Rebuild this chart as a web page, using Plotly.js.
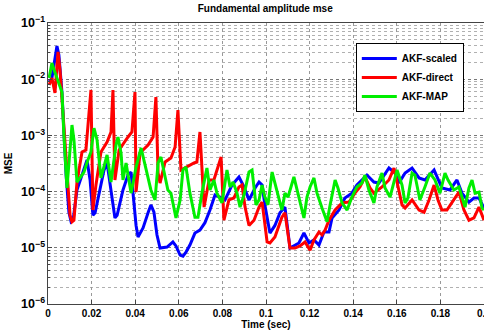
<!DOCTYPE html>
<html><head><meta charset="utf-8">
<script src="https://cdn.plot.ly/plotly-3.0.1.min.js"></script>
<style>html,body{margin:0;padding:0;background:#fff}#c{width:484px;height:331px}</style>
</head><body><div id="c"></div>
<script>
const seriesNames = ["AKF-scaled", "AKF-direct", "AKF-MAP"];
const seriesColors = ["#0000ff", "#ff0000", "#00ee00"];

const tScaled = [.0005,.0018,.0041,.005,.0064,.0083,.0096,.0106,.0115,.0133,.0156,.0179,.0193,.0206,.0216,.0239,.0257,.0271,.0289,.0307,.0317,.0344,.0367,.0381,.039,.0404,.0413,.0436,.0459,.0472,.0486,.05,.0514,.0546,.0573,.0587,.0606,.0619,.0633,.0651,.0674,.0697,.072,.0743,.0766,.0789,.0812,.0844,.0876,.0899,.0922,.095,.0968,.0982,.0995,.1018,.1041,.1064,.1087,.111,.1151,.1174,.1197,.122,.1243,.1266,.1289,.1303,.1335,.1362,.1394,.1417,.1463,.1495,.1518,.1564,.1592,.161,.1638,.167,.1702,.1729,.1771,.1807,.1844,.1876,.1899,.1931,.1954,.1977,.2];
const vScaled = [8.9e-3,1.05e-2,3.9e-2,2.7e-2,5.9e-3,1.97e-4,4.3e-5,2.9e-5,3.1e-5,1.07e-4,1.97e-4,3.65e-4,1.61e-4,3.8e-5,4.2e-5,1.07e-4,2.42e-4,3.23e-4,1.07e-4,3.4e-5,3.8e-5,1.07e-4,1.97e-4,2.23e-4,9.4e-5,2.5e-5,1.56e-5,2.25e-5,4.2e-5,5.8e-5,4.3e-5,1.69e-5,9.9e-6,1.03e-5,1.27e-5,1.08e-5,7.4e-6,7.1e-6,8.4e-6,1.12e-5,1.83e-5,2.07e-5,2.8e-5,4.7e-5,8.7e-5,8.0e-5,7.1e-5,1.31e-4,1.82e-4,1.21e-4,7.1e-5,1.16e-4,1.48e-4,1.31e-4,5.8e-5,1.83e-5,2.5e-5,4.2e-5,5.3e-5,9.9e-6,1.22e-5,1.83e-5,1.22e-5,1.38e-5,1.12e-5,1.91e-5,1.91e-5,3.4e-5,4.7e-5,7.7e-5,9.4e-5,1.31e-4,1.97e-4,1.48e-4,1.42e-4,2.63e-4,2.14e-4,1.42e-4,2.14e-4,2.63e-4,1.75e-4,1.61e-4,2.42e-4,1.16e-4,1.07e-4,1.61e-4,9.4e-5,6.5e-5,7.7e-5,7.7e-5,5.1e-5];

const tDirect = [.0005,.0018,.0032,.0046,.0055,.0073,.0087,.0101,.011,.0119,.0133,.0156,.0174,.0188,.0197,.0206,.022,.0243,.0271,.0289,.0298,.0307,.0326,.0367,.0385,.0399,.0404,.0422,.0459,.0482,.0495,.0505,.0514,.0537,.0564,.0583,.0596,.061,.0633,.067,.0683,.0697,.0716,.0739,.0761,.0794,.0807,.083,.0853,.0876,.089,.0904,.0922,.0945,.0968,.0982,.0991,.1005,.1018,.1041,.1073,.1087,.111,.1133,.1156,.1179,.1202,.122,.1243,.1257,.1271,.1289,.1317,.1349,.1381,.1408,.1431,.1454,.1477,.1495,.1532,.1564,.1587,.161,.1624,.1638,.167,.1702,.1725,.1748,.1771,.1789,.1807,.183,.1853,.1885,.1908,.1931,.1954,.1977,.2];
const vDirect = [7.9e-3,1.05e-2,5.7e-3,3.05e-2,1.46e-2,1.53e-3,1.75e-4,3.8e-5,2.9e-5,3.1e-5,1.48e-4,5.07e-4,5.5e-4,3.07e-3,6.43e-3,4.7e-5,1.31e-4,5.07e-4,7.64e-4,1.15e-3,6.43e-3,1.61e-4,5.5e-4,9.37e-4,1.15e-3,5.92e-3,9.8e-5,4.86e-4,6.75e-4,9.37e-4,4.82e-3,2.14e-4,1.42e-4,3.36e-4,3.96e-4,6.22e-4,2.83e-3,2.42e-4,2.74e-4,3.23e-4,3.36e-4,1.15e-3,5.3e-5,1.61e-4,1.61e-4,4.13e-4,3.1e-5,7.1e-5,7.7e-5,1.21e-4,1.31e-4,5.3e-5,2.5e-5,3.1e-5,5.3e-5,6.5e-5,3.5e-5,1.27e-5,1.22e-5,1.56e-5,3.5e-5,4.2e-5,9.9e-6,9.9e-6,1.08e-5,1.27e-5,9.1e-6,1.38e-5,1.91e-5,1.69e-5,2.07e-5,3.1e-5,4.7e-5,6.3e-5,6.5e-5,9.4e-5,1.21e-4,1.82e-4,1.16e-4,9.4e-5,1.21e-4,1.61e-4,2.63e-4,1.07e-4,5.8e-5,5.1e-5,7.1e-5,4.7e-5,4.3e-5,7.1e-5,1.31e-4,7.1e-5,4.7e-5,4.7e-5,6.5e-5,9.8e-5,4.7e-5,3.1e-5,3.4e-5,5.3e-5,3.1e-5];

const tMAP = [.0005,.0018,.0028,.0041,.0064,.0073,.0087,.011,.0119,.0133,.0151,.0165,.0183,.0197,.0211,.0225,.0243,.0257,.0271,.0289,.0312,.0321,.0335,.0344,.0358,.0381,.0404,.0427,.044,.0459,.0472,.0491,.0505,.0518,.0532,.055,.0564,.0587,.0606,.0619,.0633,.0651,.0674,.0688,.0706,.0729,.0743,.0761,.0775,.0798,.0821,.0835,.0849,.0867,.0881,.0899,.0922,.0936,.0954,.0968,.0982,.0995,.1009,.1028,.1041,.106,.1073,.1087,.1101,.1128,.1142,.1156,.1174,.1188,.1202,.122,.1234,.1257,.128,.1294,.1317,.133,.1349,.1372,.1394,.1417,.144,.1454,.1472,.1495,.1509,.1532,.1546,.1569,.1587,.1601,.1624,.1638,.1651,.167,.1683,.1706,.1729,.1752,.1775,.1798,.1821,.1835,.1862,.1885,.1899,.1913,.1931,.1945,.1959,.1977,.1991,.2];
const vMAP = [1.05e-2,1.94e-2,1.46e-2,1.05e-2,5.9e-3,1.0e-3,1.16e-4,1.53e-3,8.3e-4,1.48e-4,1.82e-4,2.23e-4,3.65e-4,5.07e-4,1.35e-3,8.3e-4,1.75e-4,2.97e-4,4.48e-4,1.48e-4,6.75e-4,9.37e-4,4.86e-4,1.61e-4,3.23e-4,9.4e-5,2.74e-4,5.97e-4,3.65e-4,1.82e-4,1.07e-4,7.1e-5,3.23e-4,4.13e-4,2.42e-4,1.07e-4,9.4e-5,3.4e-5,7.1e-5,2.42e-4,2.74e-4,9.4e-5,3.5e-5,3.5e-5,9.4e-5,2.63e-4,1.07e-4,1.61e-4,9.4e-5,6.3e-5,2.42e-4,1.21e-4,1.48e-4,9.4e-5,5.3e-5,8.7e-5,2.23e-4,2.42e-4,5.8e-5,7.1e-5,1.31e-4,8.0e-5,5.8e-5,2.23e-4,1.42e-4,7.1e-5,4.7e-5,9.4e-5,8.0e-5,1.82e-4,1.07e-4,6.3e-5,3.4e-5,8.0e-5,1.21e-4,1.75e-4,9.4e-5,5.1e-5,2.9e-5,5.8e-5,1.61e-4,1.16e-4,6.3e-5,4.7e-5,8.0e-5,1.21e-4,1.42e-4,1.97e-4,1.07e-4,6.3e-5,1.21e-4,2.14e-4,1.16e-4,8.0e-5,1.61e-4,2.42e-4,1.31e-4,6.3e-5,7.7e-5,2.14e-4,1.97e-4,7.1e-5,1.21e-4,2.14e-4,1.61e-4,9.4e-5,2.14e-4,1.61e-4,1.07e-4,1.21e-4,8.0e-5,5.3e-5,1.16e-4,1.61e-4,9.4e-5,9.8e-5,5.1e-5,4.7e-5];

const xTickVals = [0,0.02,0.04,0.06,0.08,0.1,0.12,0.14,0.16,0.18,0.2];
const xTickText = ["0","0.02","0.04","0.06","0.08","0.1","0.12","0.14","0.16","0.18","0.2"];

const ts = [tScaled, tDirect, tMAP];
const vs = [vScaled, vDirect, vMAP];
const traces = seriesNames.map((n,i)=>({
  x: ts[i], y: vs[i], name: n, type:'scatter', mode:'lines',
  line:{color:seriesColors[i], width:3}
}));

const F = "Liberation Sans, Arial, sans-serif";
const layout = {
  width:484, height:331,
  margin:{l:48, r:0, t:23, b:27},
  paper_bgcolor:'#fff', plot_bgcolor:'#fff',
  font:{family:F, size:10, color:'#000', weight:'bold'},
  title:{text:'Fundamental amplitude mse', x:0.548, xanchor:'center', y:0.985, yanchor:'top', font:{family:F, size:10, weight:'bold', color:'#000'}},
  showlegend:true,
  legend:{x:0.706, y:0.929, xanchor:'left', yanchor:'top', bgcolor:'#fff', bordercolor:'#000', borderwidth:1,
    font:{family:F, size:10, weight:'bold'}, itemwidth:35, tracegroupgap:0},
  xaxis:{range:[0,0.2], tickvals:xTickVals, ticktext:xTickText, ticks:'inside', ticklen:4,
    ticklabeloverflow:'allow',
    showgrid:true, gridcolor:'#999', griddash:'dot', gridwidth:1,
    showline:true, linecolor:'#444', mirror:true, zeroline:false, automargin:false,
    title:{text:'Time (sec)', standoff:2, font:{family:F, size:10, weight:'bold'}},
    tickfont:{family:F, size:10, weight:'bold'}},
  yaxis:{type:'log', range:[-6,-1], dtick:1, exponentformat:'power', ticks:'inside', ticklen:4,
    showgrid:true, gridcolor:'#777', griddash:'dot', gridwidth:1,
    minor:{showgrid:true, gridcolor:'#b0b0b0', griddash:'dot', ticks:'inside', ticklen:2},
    showline:true, linecolor:'#444', mirror:true, zeroline:false, automargin:false,
    title:{text:'MSE', standoff:6, font:{family:F, size:10, weight:'bold'}},
    tickfont:{family:F, size:10, weight:'bold'}}
};
Plotly.newPlot('c', traces, layout, {displayModeBar:false, staticPlot:true});
</script></body></html>
